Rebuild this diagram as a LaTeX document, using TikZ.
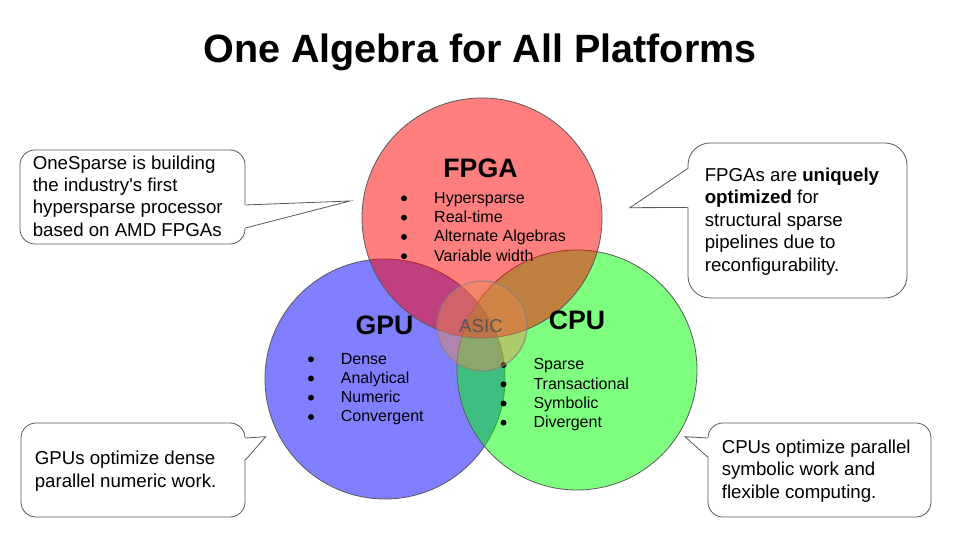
\documentclass[tikz,border=0pt]{standalone}
\usepackage{fontspec}
\setmainfont{Liberation Sans}
\newfontfamily\plainsans{Liberation Sans}
\usepackage{tikz}

\definecolor{lineGray}{RGB}{89,89,89}
\definecolor{asicFill}{RGB}{230,140,80}
\definecolor{asicText}{RGB}{85,85,85}

\tikzset{
  venn/.style={circle, draw=lineGray, line width=0.8pt, minimum size=240pt, inner sep=0pt, fill opacity=0.5},
  bulletdot/.style={circle, fill=black, inner sep=0pt, minimum size=6pt},
  entry/.style={anchor=base west, inner sep=0pt, font=\fontsize{16}{19.2}\selectfont},
  head/.style={anchor=base, inner sep=0pt, font=\fontsize{26.7}{32}\selectfont\bfseries},
  notebox/.style={draw=lineGray, line width=0.8pt, fill=white, rounded corners=15pt, inner sep=0pt},
  notetext/.style={anchor=west, align=left, inner sep=0pt, font=\fontsize{18.67}{22.4}\selectfont},
  wedge/.style={draw=lineGray, line width=0.8pt},
}

\begin{document}
\begin{tikzpicture}[x=1pt, y=1pt]
					\useasboundingbox (0,0) rectangle (960,540);

					\node[anchor=base, inner sep=0pt, font=\fontsize{39.5}{47}\selectfont\bfseries] (title) at (480, 477) {One Algebra for All Platforms};

					% the three platforms
					\node[venn, fill=blue] (gpu) at (385, 161) {};
					\node[venn, fill=green] (cpu) at (577, 170) {};
					\node[venn, fill=red] (fpga) at (482, 322) {};

					\node[head] (fpgahead) at (480.5, 362.7) {FPGA};
					\node[bulletdot] (fpgadot1) at (404, 341.7) {};
					\node[bulletdot] (fpgadot2) at (404, 322.4) {};
					\node[bulletdot] (fpgadot3) at (404, 303.1) {};
					\node[bulletdot] (fpgadot4) at (404, 283.8) {};
					\node[entry] (fpga1) at (434, 336.7) {Hypersparse};
					\node[entry] (fpga2) at (434, 317.4) {Real-time};
					\node[entry] (fpga3) at (434, 298.1) {Alternate Algebras};
					\node[entry] (fpga4) at (434, 278.8) {Variable width};

					\node[head] (gpuhead) at (384.5, 205.7) {GPU};
					\node[bulletdot] (gpudot1) at (311, 180.7) {};
					\node[bulletdot] (gpudot2) at (311, 161.5) {};
					\node[bulletdot] (gpudot3) at (311, 142.3) {};
					\node[bulletdot] (gpudot4) at (311, 123) {};
					\node[entry] (gpu1) at (340.7, 175.7) {Dense};
					\node[entry] (gpu2) at (340.7, 156.5) {Analytical};
					\node[entry] (gpu3) at (340.7, 137.3) {Numeric};
					\node[entry] (gpu4) at (340.7, 118) {Convergent};

					\node[head] (cpuhead) at (577, 210.7) {CPU};
					\node[bulletdot] (cpudot1) at (503.5, 175) {};
					\node[bulletdot] (cpudot2) at (503.5, 155.7) {};
					\node[bulletdot] (cpudot3) at (503.5, 136.5) {};
					\node[bulletdot] (cpudot4) at (503.5, 117.3) {};
					\node[entry] (cpu1) at (533.3, 170) {Sparse};
					\node[entry] (cpu2) at (533.3, 150.7) {Transactional};
					\node[entry] (cpu3) at (533.3, 131.5) {Symbolic};
					\node[entry] (cpu4) at (533.3, 112.3) {Divergent};

					% the overlay in the middle
					\node[circle, minimum size=90pt, inner sep=0pt, fill=asicFill, fill opacity=0.45, draw=gray, draw opacity=0.6, line width=1.5pt] (asic) at (482, 214) {};
					\node[anchor=base, inner sep=0pt, text=asicText, font=\fontsize{18.67}{22.4}\selectfont] (asiclabel) at (481, 207) {ASIC};

					% callouts
					\node[notebox, minimum width=225pt, minimum height=94pt] (onesparse) at (132.5, 343) {};
					\node[notebox, rounded corners=22pt, minimum width=219pt, minimum height=155pt] (fpganote) at (797.5, 319.5) {};
					\node[notebox, minimum width=224pt, minimum height=94pt] (gpunote) at (133, 70) {};
					\node[notebox, minimum width=223pt, minimum height=94pt] (cpunote) at (819.5, 70) {};

					\coordinate (onetip) at (350, 339);
					\coordinate (fpgatip) at (630, 332.3);
					\coordinate (gputip) at (265.7, 103.3);
					\coordinate (cputip) at (685, 103.3);

					\fill[white] ([xshift=-1.5pt, yshift=-8pt]onesparse.east) -- (onetip) -- ([xshift=-1.5pt, yshift=-31pt]onesparse.east) -- cycle;
					\draw[wedge] ([yshift=-8pt]onesparse.east) -- (onetip) -- ([yshift=-31pt]onesparse.east);

					\fill[white] ([xshift=1.5pt, yshift=52pt]fpganote.west) -- (fpgatip) -- ([xshift=1.5pt, yshift=13pt]fpganote.west) -- cycle;
					\draw[wedge] ([yshift=52pt]fpganote.west) -- (fpgatip) -- ([yshift=13pt]fpganote.west);

					\fill[white] ([xshift=-1.5pt, yshift=32pt]gpunote.east) -- (gputip) -- ([xshift=-1.5pt, yshift=10pt]gpunote.east) -- cycle;
					\draw[wedge] ([yshift=32pt]gpunote.east) -- (gputip) -- ([yshift=10pt]gpunote.east);

					\fill[white] ([xshift=1.5pt, yshift=32pt]cpunote.west) -- (cputip) -- ([xshift=1.5pt, yshift=13pt]cpunote.west) -- cycle;
					\draw[wedge] ([yshift=32pt]cpunote.west) -- (cputip) -- ([yshift=13pt]cpunote.west);

					\node[notetext] (onesparsetext) at ([xshift=13pt, yshift=1pt]onesparse.west) {OneSparse is building\\the industry{\plainsans'}s first\\hypersparse processor\\based on AMD FPGAs};
					\node[notetext] (fpganotetext) at ([xshift=17pt, yshift=-1pt]fpganote.west) {FPGAs are \textbf{uniquely}\\\textbf{optimized} for\\structural sparse\\pipelines due to\\reconfigurability.};
					\node[notetext] (gpunotetext) at ([xshift=14pt, yshift=-1pt]gpunote.west) {GPUs optimize dense\\parallel numeric work.};
					\node[notetext] (cpunotetext) at ([xshift=14pt, yshift=-1pt]cpunote.west) {CPUs optimize parallel\\symbolic work and\\flexible computing.};
				\end{tikzpicture}
\end{document}
